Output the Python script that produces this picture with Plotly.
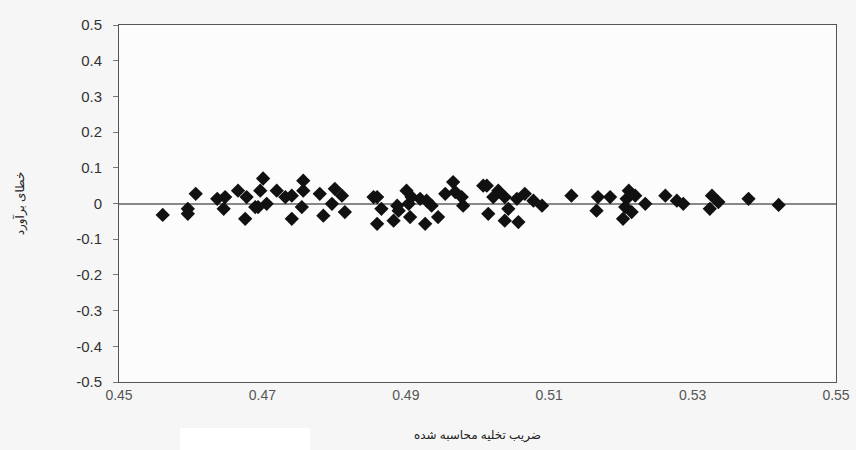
import plotly.graph_objects as go

x_vals = [
    0.4561, 0.4596, 0.4596, 0.4607, 0.4637, 0.4648, 0.4646, 0.4666, 0.4678, 0.4676,
    0.4690, 0.4701, 0.4697, 0.4694, 0.4706, 0.4720, 0.4732, 0.4741, 0.4757, 0.4757,
    0.4755, 0.4741, 0.4780, 0.4801, 0.4811, 0.4797, 0.4785, 0.4815, 0.4855, 0.4860,
    0.4866, 0.4860, 0.4888, 0.4890, 0.4883, 0.4901, 0.4908, 0.4904, 0.4906, 0.4920,
    0.4929, 0.4927, 0.4936, 0.4945, 0.4955, 0.4966, 0.4969, 0.4978, 0.4980, 0.5008,
    0.5013, 0.5029, 0.5022, 0.5038, 0.5015, 0.5043, 0.5055, 0.5066, 0.5078, 0.5090,
    0.5038, 0.5057, 0.5131, 0.5168, 0.5185, 0.5166, 0.5211, 0.5208, 0.5220, 0.5206,
    0.5215, 0.5203, 0.5234, 0.5262, 0.5278, 0.5287, 0.5327, 0.5324, 0.5336, 0.5378,
    0.5420,
]
y_vals = [
    -0.032, -0.015, -0.029, 0.027, 0.013, 0.018, -0.015, 0.036, 0.018, -0.043,
    -0.010, 0.070, 0.036, -0.010, -0.001, 0.036, 0.018, 0.022, 0.064, 0.036,
    -0.010, -0.043, 0.027, 0.041, 0.022, -0.001, -0.034, -0.024, 0.018, 0.018,
    -0.015, -0.057, -0.006, -0.020, -0.048, 0.036, 0.018, -0.001, -0.038, 0.013,
    0.008, -0.057, -0.006, -0.038, 0.027, 0.060, 0.032, 0.018, -0.006, 0.050,
    0.050, 0.036, 0.018, 0.018, -0.029, -0.015, 0.013, 0.027, 0.008, -0.006,
    -0.048, -0.052, 0.022, 0.018, 0.018, -0.020, 0.036, 0.013, 0.022, -0.010,
    -0.024, -0.043, -0.001, 0.022, 0.008, -0.001, 0.022, -0.015, 0.004, 0.013,
    -0.004,
]

x_ticks = [0.45, 0.47, 0.49, 0.51, 0.53, 0.55]
y_ticks = [0.5, 0.4, 0.3, 0.2, 0.1, 0, -0.1, -0.2, -0.3, -0.4, -0.5]
x_title = "ضریب تخلیه محاسبه شده"
y_title = "خطای برآورد"

fig = go.Figure()
fig.add_trace(go.Scatter(
    x=x_vals, y=y_vals, mode="markers",
    marker=dict(symbol="diamond", size=11, color="#111111"),
    showlegend=False,
))

bg = "#f6f6f6"
font_family = "Liberation Sans, Arial, sans-serif"
title_font = "Noto Sans, DejaVu Sans, sans-serif"
fig.update_layout(
    width=856, height=450,
    margin=dict(l=119, r=20, t=25, b=68, autoexpand=False),
    paper_bgcolor=bg,
    plot_bgcolor="#fcfcfc",
    font=dict(family=font_family, color="#333333", size=14),
    xaxis=dict(
        range=[0.45, 0.55], tickvals=x_ticks, automargin=False,
        ticktext=[f"{v:.2f}" for v in x_ticks], ticklabeloverflow="allow",
        showgrid=False, zeroline=False, showline=True, linecolor="#555555",
        linewidth=1, mirror=True, ticks="", tickfont=dict(size=14, color="#555555"),
        title=dict(text=x_title, font=dict(size=12, color="#222222",
                   family=title_font), standoff=28),
    ),
    yaxis=dict(
        range=[-0.5, 0.5], tickvals=y_ticks, automargin=False,
        ticktext=[("0" if v == 0 else f"{v:g}") for v in y_ticks],
        ticklabelstandoff=8,
        showgrid=False, zeroline=True, zerolinecolor="#888888", zerolinewidth=2,
        showline=True, linecolor="#555555", linewidth=1, mirror=True,
        ticks="outside", ticklen=5, tickcolor="#777777",
        tickfont=dict(size=15, color="#333333"),
        title=dict(text=y_title, font=dict(size=12, color="#222222",
                   family=title_font), standoff=48),
    ),
)
fig.add_shape(type="rect", xref="paper", yref="paper",
              x0=(180 - 119) / 717, x1=(310 - 119) / 717,
              y0=-(428 - 382) / 357, y1=-(452 - 382) / 357,
              fillcolor="#ffffff", line=dict(width=0), layer="below")

fig.write_html(
    "out.html",
    config={"displayModeBar": False},
    post_script=(f"document.body.style.background='{bg}';"
                 "document.body.style.margin='0';"
                 "document.body.style.overflow='hidden';"),
)
